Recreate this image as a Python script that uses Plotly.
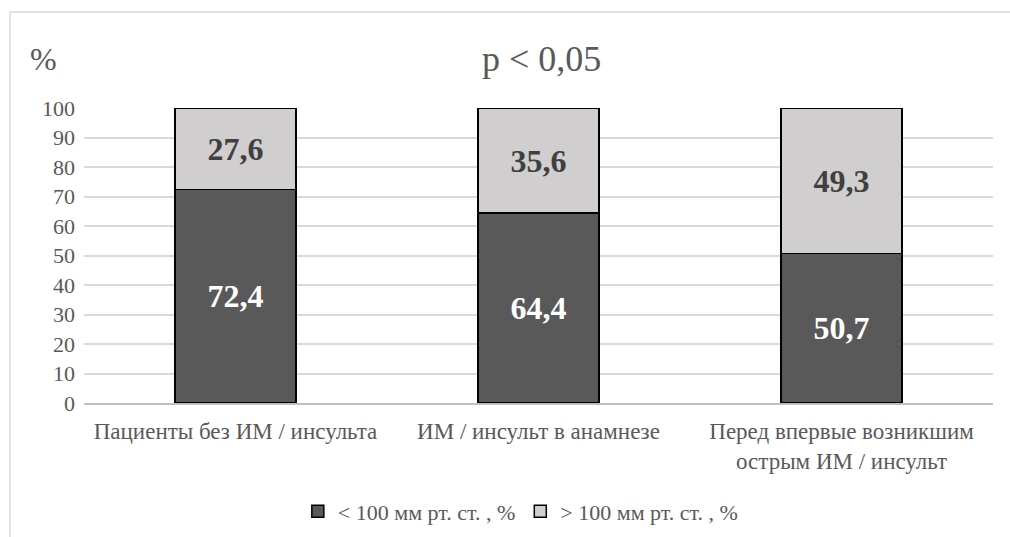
import plotly.graph_objects as go

categories = ["Пациенты без ИМ / инсульта",
              "ИМ / инсульт в анамнезе",
              "Перед впервые возникшим<br>острым ИМ / инсульт"]
below_100 = [72.4, 64.4, 50.7]
above_100 = [27.6, 35.6, 49.3]
series_names = ["< 100 мм рт. ст. , %", "> 100 мм рт. ст. , %"]
y_ticks = [0, 10, 20, 30, 40, 50, 60, 70, 80, 90, 100]

FONT = "Liberation Serif"
GREY = "#595959"


def fmt(v):
    return f"{v:.1f}".replace(".", ",")


fig = go.Figure()
fig.add_trace(go.Bar(
    x=categories, y=below_100, name=series_names[0],
    marker=dict(color="#595959", line=dict(color="#000000", width=1.5)),
    text=[fmt(v) for v in below_100], textposition="inside",
    insidetextanchor="middle", textangle=0,
    textfont=dict(family=FONT, size=32, color="#ffffff", weight="bold"),
))
fig.add_trace(go.Bar(
    x=categories, y=above_100, name=series_names[1],
    marker=dict(color="#d0cece", line=dict(color="#000000", width=1.5)),
    text=[fmt(v) for v in above_100], textposition="inside",
    insidetextanchor="middle", textangle=0,
    textfont=dict(family=FONT, size=32, color="#404040", weight="bold"),
))

# outer chart frame
border = dict(color="#d9d9d9", width=1.5)
fig.add_shape(type="line", xref="paper", yref="paper",
              x0=-0.0814, x1=-0.0814, y0=1.3254, y1=-0.47, line=border)
fig.add_shape(type="line", xref="paper", yref="paper",
              x0=-0.0814, x1=1.03, y0=1.3254, y1=1.3254, line=border)

fig.add_annotation(text="%", xref="paper", yref="paper", x=-0.045, y=1.165,
                   xanchor="center", yanchor="middle",
                   showarrow=False, font=dict(family=FONT, size=32, color=GREY))
fig.add_annotation(text="p < 0,05", xref="paper", yref="paper", x=0.503, y=1.165,
                   xanchor="center", yanchor="middle",
                   showarrow=False, font=dict(family=FONT, size=36, color=GREY))

fig.update_layout(
    barmode="stack",
    bargap=0.6,
    width=1010, height=537,
    margin=dict(l=84, r=17, t=108, b=134, autoexpand=False),
    paper_bgcolor="#ffffff", plot_bgcolor="#ffffff",
    font=dict(family=FONT, color=GREY),
    showlegend=True,
    legend=dict(orientation="h", x=0.48, xanchor="center", y=-0.368, yanchor="middle",
                font=dict(family=FONT, size=22, color=GREY),
                traceorder="normal", itemwidth=30),
    uniformtext=dict(mode=False),
)
fig.update_yaxes(range=[0, 100], tickvals=y_ticks, showgrid=True,
                 gridcolor="#d9d9d9", gridwidth=1.5, zeroline=False,
                 tickfont=dict(family=FONT, size=22, color=GREY),
                 ticks="", ticklabelstandoff=8)
fig.update_xaxes(showline=True, linecolor="#bfbfbf", linewidth=1.5,
                 tickfont=dict(family=FONT, size=23, color=GREY),
                 ticks="", ticklabelstandoff=7)

fig.write_html("out.html")
